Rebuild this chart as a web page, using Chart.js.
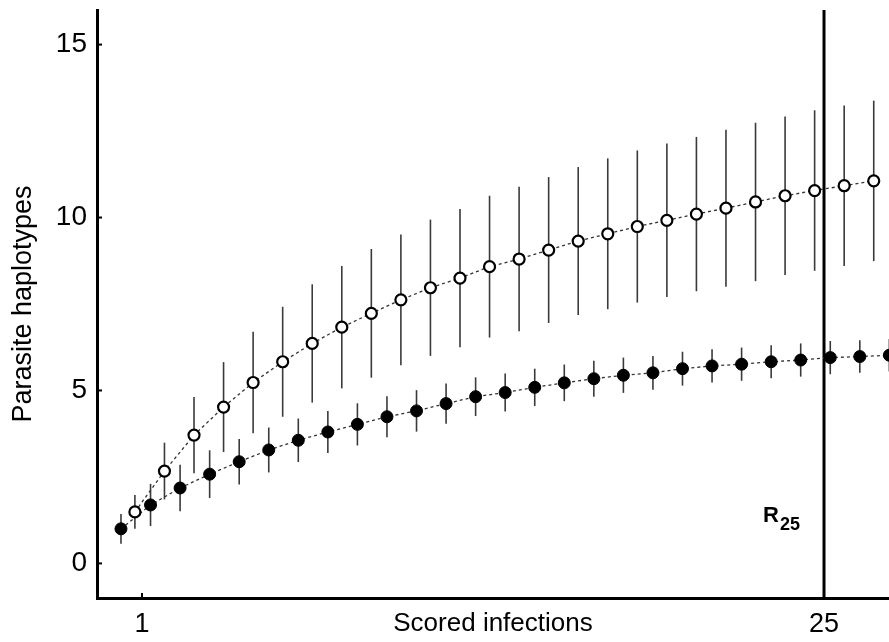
<!DOCTYPE html>
<html>
<head>
<meta charset="utf-8">
<script src="https://cdn.jsdelivr.net/npm/chart.js@4"></script>
<style>
  body { margin: 0; background: #fff; }
  #wrap { width: 889px; height: 642px; }
</style>
</head>
<body>
<div id="wrap"><canvas id="myChart"></canvas></div>
<script>
// x positions of the points (points sit between integer values in the source plot)
var filledX = [0.26, 1.30, 2.34, 3.38, 4.42, 5.46, 6.50, 7.54, 8.58, 9.62, 10.66, 11.70, 12.74, 13.78,
  14.82, 15.86, 16.90, 17.94, 18.98, 20.02, 21.06, 22.10, 23.14, 24.18, 25.22, 26.26, 27.30];
var filledY = [1.00, 1.69, 2.18, 2.58, 2.94, 3.28, 3.56, 3.80, 4.02, 4.24, 4.41, 4.62, 4.82, 4.94,
  5.09, 5.22, 5.34, 5.44, 5.51, 5.63, 5.71, 5.76, 5.83, 5.88, 5.95, 5.98, 6.02];
var filledErr = [0.43, 0.61, 0.67, 0.69, 0.66, 0.65, 0.63, 0.61, 0.61, 0.59, 0.60, 0.58, 0.56, 0.55,
  0.54, 0.53, 0.52, 0.51, 0.49, 0.49, 0.48, 0.48, 0.48, 0.48, 0.48, 0.47, 0.47];

var openX = [0.75, 1.79, 2.83, 3.87, 4.91, 5.95, 6.99, 8.03, 9.07, 10.11, 11.15, 12.19, 13.23,
  14.27, 15.31, 16.35, 17.39, 18.43, 19.47, 20.51, 21.55, 22.59, 23.63, 24.67, 25.71, 26.75];
var openY = [1.49, 2.67, 3.71, 4.52, 5.23, 5.83, 6.36, 6.83, 7.23, 7.62, 7.97, 8.25, 8.58,
  8.80, 9.06, 9.32, 9.53, 9.74, 9.92, 10.10, 10.27, 10.45, 10.63, 10.78, 10.92, 11.06];
var openErr = [0.49, 0.82, 1.10, 1.30, 1.47, 1.59, 1.71, 1.77, 1.86, 1.89, 1.97, 2.00, 2.05,
  2.09, 2.11, 2.14, 2.18, 2.20, 2.22, 2.23, 2.27, 2.29, 2.29, 2.32, 2.32, 2.32];

var xTicks = [1, 25];
var yTicks = [0, 5, 10, 15];
var refLineX = 25;
var refLabel = "R";
var refSub = "25";

var FONT = "'Liberation Sans', Arial, sans-serif";

function toPoints(xs, ys) {
  return xs.map(function (v, i) { return { x: v, y: ys[i] }; });
}

var extras = {
  id: "extras",
  beforeDatasetsDraw: function (chart) {
    var ctx = chart.ctx, xs = chart.scales.x, ys = chart.scales.y, area = chart.chartArea;
    ctx.save();
    // vertical reference line
    var lx = xs.getPixelForValue(refLineX);
    ctx.strokeStyle = "#000";
    ctx.lineWidth = 3;
    ctx.beginPath();
    ctx.moveTo(lx, area.top);
    ctx.lineTo(lx, area.bottom);
    ctx.stroke();
    // error bars
    ctx.strokeStyle = "#3a3a3a";
    ctx.lineWidth = 1.6;
    [[openX, openY, openErr], [filledX, filledY, filledErr]].forEach(function (s) {
      s[0].forEach(function (xv, i) {
        var px = xs.getPixelForValue(xv);
        ctx.beginPath();
        ctx.moveTo(px, ys.getPixelForValue(s[1][i] + s[2][i]));
        ctx.lineTo(px, ys.getPixelForValue(s[1][i] - s[2][i]));
        ctx.stroke();
      });
    });
    ctx.restore();
  },
  afterDraw: function (chart) {
    var ctx = chart.ctx, xs = chart.scales.x, ys = chart.scales.y, area = chart.chartArea;
    ctx.save();
    // inward tick marks
    ctx.strokeStyle = "#000";
    ctx.lineWidth = 2;
    yTicks.forEach(function (v) {
      var py = ys.getPixelForValue(v);
      ctx.beginPath();
      ctx.moveTo(area.left, py);
      ctx.lineTo(area.left + 5, py);
      ctx.stroke();
    });
    xTicks.forEach(function (v) {
      var px = xs.getPixelForValue(v);
      ctx.beginPath();
      ctx.moveTo(px, area.bottom);
      ctx.lineTo(px, area.bottom - 5);
      ctx.stroke();
    });
    // R25 label
    var lx = xs.getPixelForValue(refLineX);
    var by = ys.getPixelForValue(1.19);
    ctx.fillStyle = "#000";
    ctx.textBaseline = "alphabetic";
    ctx.textAlign = "left";
    ctx.font = "bold 22px " + FONT;
    ctx.fillText(refLabel, lx - 61, by);
    ctx.font = "bold 18px " + FONT;
    ctx.fillText(refSub, lx - 44, by + 8);
    ctx.restore();
  }
};

window.addEventListener("load", function () {
  var ctx = document.getElementById("myChart");
  var chart = new Chart(ctx, {
    type: "line",
    data: {
      datasets: [
        {
          label: "open",
          data: toPoints(openX, openY),
          borderColor: "#333",
          borderWidth: 1.3,
          borderDash: [3, 3],
          pointRadius: 5.5,
          pointBorderWidth: 2.2,
          pointBorderColor: "#000",
          pointBackgroundColor: "#fff",
          fill: false,
        },
        {
          label: "filled",
          data: toPoints(filledX, filledY),
          borderColor: "#333",
          borderWidth: 1.3,
          borderDash: [3, 3],
          pointRadius: 6,
          pointBorderWidth: 1,
          pointBorderColor: "#000",
          pointBackgroundColor: "#000",
          fill: false,
        },
      ],
    },
    options: {
      responsive: true,
      maintainAspectRatio: false,
      animation: false,
      layout: { autoPadding: false, padding: { top: 10, right: 0, bottom: 0, left: 0 } },
      plugins: {
        legend: { display: false },
        tooltip: { enabled: false },
      },
      scales: {
        x: {
          type: "linear",
          min: -0.584,
          max: 27.287,
          afterBuildTicks: function (scale) {
            scale.ticks = xTicks.map(function (v) { return { value: v }; });
          },
          afterFit: function (scale) {
            scale.height = 44;
            scale.paddingLeft = 0;
            scale.paddingRight = 0;
          },
          grid: { display: false, drawTicks: false },
          border: { display: true, color: "#000", width: 3 },
          ticks: { color: "#000", padding: 10, font: { family: FONT, size: 27 }, maxRotation: 0 },
          title: {
            display: true,
            text: "Scored infections",
            color: "#000",
            font: { family: FONT, size: 26 },
            padding: { top: 0, bottom: 3 },
          },
        },
        y: {
          type: "linear",
          min: -1,
          max: 16,
          afterBuildTicks: function (scale) {
            scale.ticks = yTicks.map(function (v) { return { value: v }; });
          },
          afterFit: function (scale) {
            scale.width = 97;
            scale.paddingTop = 0;
            scale.paddingBottom = 0;
          },
          grid: { display: false, drawTicks: false },
          border: { display: true, color: "#000", width: 3 },
          ticks: { color: "#000", padding: 10, font: { family: FONT, size: 28 } },
          title: {
            display: true,
            text: "Parasite haplotypes",
            color: "#000",
            font: { family: FONT, size: 27 },
            padding: { top: 7, bottom: 0 },
          },
        },
      },
    },
    plugins: [extras],
  });
});
</script>
</body>
</html>
